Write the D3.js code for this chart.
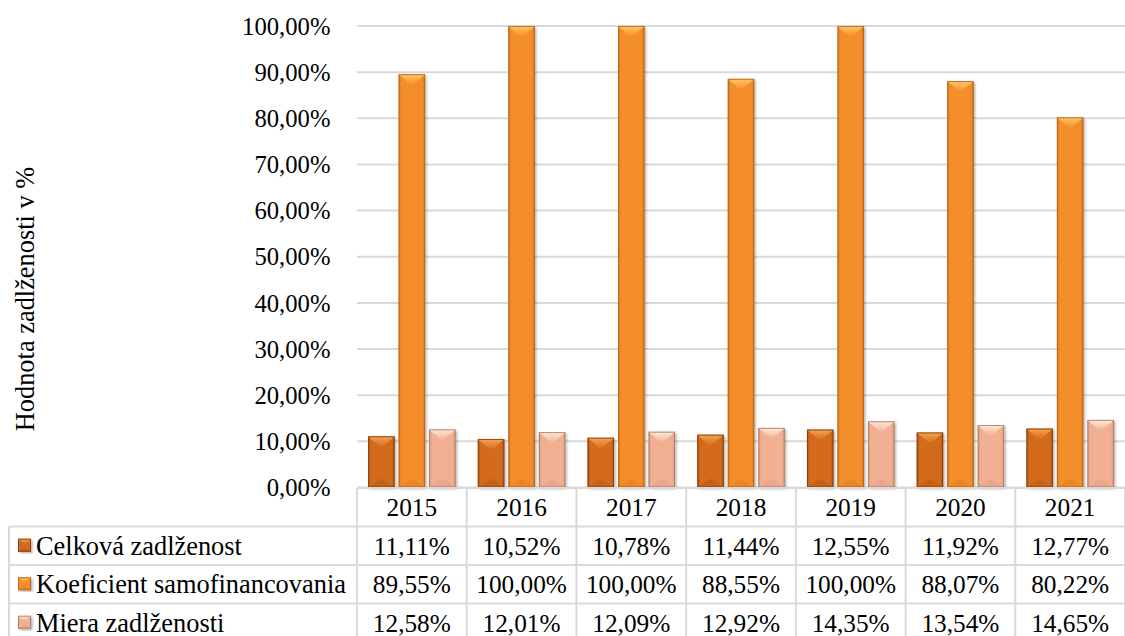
<!DOCTYPE html>
<html>
<head>
<meta charset="utf-8">
<script src="https://cdn.jsdelivr.net/npm/d3@7"></script>
<style>
  html, body { margin: 0; padding: 0; background: #ffffff; }
  svg { display: block; }
  svg text { font-family: 'Liberation Serif', 'Times New Roman', serif !important; fill: #000; }
</style>
</head>
<body>
<svg id="chart" width="1125" height="636"></svg>
<script>
// Data
const years = ["2015", "2016", "2017", "2018", "2019", "2020", "2021"];
const seriesNames = ["Celková zadlženost", "Koeficient samofinancovania", "Miera zadlženosti"];
const celkova = [11.11, 10.52, 10.78, 11.44, 12.55, 11.92, 12.77];
const koeficient = [89.55, 100.00, 100.00, 88.55, 100.00, 88.07, 80.22];
const miera = [12.58, 12.01, 12.09, 12.92, 14.35, 13.54, 14.65];
const yTicks = [0, 10, 20, 30, 40, 50, 60, 70, 80, 90, 100];
const axisTitle = "Hodnota zadlženosti v %";

const seriesValues = [celkova, koeficient, miera];

// Bevel palettes per series
const palettes = [
  { base: "#d46b1d", light: "#f3a653", dark: "#b05712", edge: "#7f3a0b" },
  { base: "#f48e2a", light: "#fdc765", dark: "#d97a20", edge: "#b0611a" },
  { base: "#f1b092", light: "#fdeadb", dark: "#dd9d80", edge: "#a9765e" }
];

const fmt = v => v.toFixed(2).replace(".", ",") + "%";

const svg = d3.select("#chart");
const W = 1125;
const plotLeft = 357, plotRight = 1125, plotTop = 26, plotBottom = 487.5;
const FS_TICK = 24.7, FS_NUM = 25.3, FS_NAME = 26.4, FS_TITLE = 26.4;

const x0 = d3.scaleBand().domain(years).range([plotLeft, plotRight]).paddingInner(0).paddingOuter(0);
const x1 = d3.scaleBand().domain(d3.range(seriesNames.length)).range([0, x0.bandwidth()])
  .paddingInner(0.131).paddingOuter(0.364);
const y = d3.scaleLinear().domain([0, 100]).range([plotBottom, plotTop]);

const defs = svg.append("defs");
palettes.forEach((p, i) => {
  const g = defs.append("linearGradient").attr("id", "body" + i)
    .attr("x1", 0).attr("x2", 1).attr("y1", 0).attr("y2", 0);
  g.append("stop").attr("offset", "0").attr("stop-color", p.dark);
  g.append("stop").attr("offset", "0.12").attr("stop-color", p.base);
  g.append("stop").attr("offset", "0.88").attr("stop-color", p.base);
  g.append("stop").attr("offset", "1").attr("stop-color", p.dark);
  const t = defs.append("linearGradient").attr("id", "top" + i)
    .attr("x1", 0).attr("x2", 0).attr("y1", 0).attr("y2", 1);
  t.append("stop").attr("offset", "0").attr("stop-color", p.light);
  t.append("stop").attr("offset", "1").attr("stop-color", p.base);
});
const sh = defs.append("filter").attr("id", "shadow").attr("x", "-20%").attr("y", "-5%").attr("width", "150%").attr("height", "115%");
sh.append("feDropShadow").attr("dx", 1.5).attr("dy", 1.5).attr("stdDeviation", 1.2)
  .attr("flood-color", "#000").attr("flood-opacity", 0.3);

// Gridlines
svg.append("g").selectAll("line").data(yTicks).join("line")
  .attr("x1", plotLeft).attr("x2", plotRight)
  .attr("y1", d => y(d)).attr("y2", d => y(d))
  .attr("stroke", "#d9d9d9").attr("stroke-width", 2);

// Y axis labels
const yAxis = d3.axisLeft(y).tickValues(yTicks).tickSize(0).tickPadding(0)
  .tickFormat(d => d.toFixed(2).replace(".", ",") + "%");
const yg = svg.append("g").attr("transform", `translate(330.5,0)`).call(yAxis)
  .attr("font-family", null).attr("font-size", null);
yg.select(".domain").remove();
yg.selectAll("text").attr("font-size", FS_TICK).attr("dy", "0.33em");

// Axis title
svg.append("text").attr("transform", `translate(34,299) rotate(-90)`)
  .attr("text-anchor", "middle").attr("font-size", FS_TITLE)
  .text(axisTitle);

// Bevelled bar
function bevelBar(g, x, yTop, w, h, i) {
  const p = palettes[i];
  const b = Math.min(w * 0.42, h / 2);
  const xc = x + w / 2;
  const yb = yTop + h;
  const bar = g.append("g");
  bar.append("rect").attr("x", x).attr("y", yTop).attr("width", w).attr("height", h)
    .attr("fill", `url(#body${i})`).attr("filter", "url(#shadow)");
  bar.append("path")
    .attr("d", `M${x},${yTop}L${x + w},${yTop}L${x + w - 2},${yTop + 2}L${xc},${yTop + b}L${x + 2},${yTop + 2}Z`)
    .attr("fill", `url(#top${i})`);
  bar.append("path")
    .attr("d", `M${x},${yb}L${x + w},${yb}L${xc},${yb - b * 0.8}Z`)
    .attr("fill", p.dark).attr("opacity", 0.45);
  bar.append("rect").attr("x", x + 0.5).attr("y", yTop + 0.5).attr("width", w - 1).attr("height", h - 1)
    .attr("fill", "none").attr("stroke", p.edge).attr("stroke-width", 1).attr("opacity", 0.8);
}

// Bars
const barsG = svg.append("g");
years.forEach((yr, yi) => {
  seriesValues.forEach((vals, si) => {
    const v = vals[yi];
    const xPos = x0(yr) + x1(si);
    bevelBar(barsG, xPos, y(v), x1.bandwidth(), y(0) - y(v), si);
  });
});

// Data table
const rowTop = plotBottom + 0.5;
const rowH = 38.5;
const tableLeft = 9;
const gridColor = "#d9d9d9";
const tg = svg.append("g");

// horizontal lines
tg.selectAll(".hl").data([0, 1, 2, 3]).join("line")
  .attr("x1", d => d === 0 ? plotLeft : tableLeft).attr("x2", W)
  .attr("y1", d => rowTop + rowH * d).attr("y2", d => rowTop + rowH * d)
  .attr("stroke", gridColor).attr("stroke-width", 2);
// vertical lines for year columns
tg.selectAll(".vl").data(years.concat(["end"])).join("line")
  .attr("x1", (d, i) => i < years.length ? x0(d) : plotRight)
  .attr("x2", (d, i) => i < years.length ? x0(d) : plotRight)
  .attr("y1", rowTop).attr("y2", 636)
  .attr("stroke", gridColor).attr("stroke-width", 2);
// left border
tg.append("line").attr("x1", tableLeft).attr("x2", tableLeft)
  .attr("y1", rowTop + rowH).attr("y2", 636)
  .attr("stroke", gridColor).attr("stroke-width", 2);

// year headers
tg.selectAll(".yr").data(years).join("text")
  .attr("x", d => x0(d) + x0.bandwidth() / 2).attr("y", rowTop + rowH / 2)
  .attr("dy", "0.35em").attr("text-anchor", "middle").attr("font-size", FS_NUM)
  .text(d => d);

// rows
seriesNames.forEach((name, si) => {
  const cy = rowTop + rowH * (si + 1) + rowH / 2;
  const key = tg.append("g");
  bevelBar(key, 18, cy - 7, 13, 13, si);
  tg.append("text").attr("x", 36).attr("y", cy).attr("dy", "0.35em")
    .attr("font-size", FS_NAME).text(name);
  tg.selectAll(null).data(seriesValues[si]).join("text")
    .attr("x", (d, i) => x0(years[i]) + x0.bandwidth() / 2).attr("y", cy).attr("dy", "0.35em")
    .attr("text-anchor", "middle").attr("font-size", FS_NUM)
    .text(d => fmt(d));
});
</script>
</body>
</html>
